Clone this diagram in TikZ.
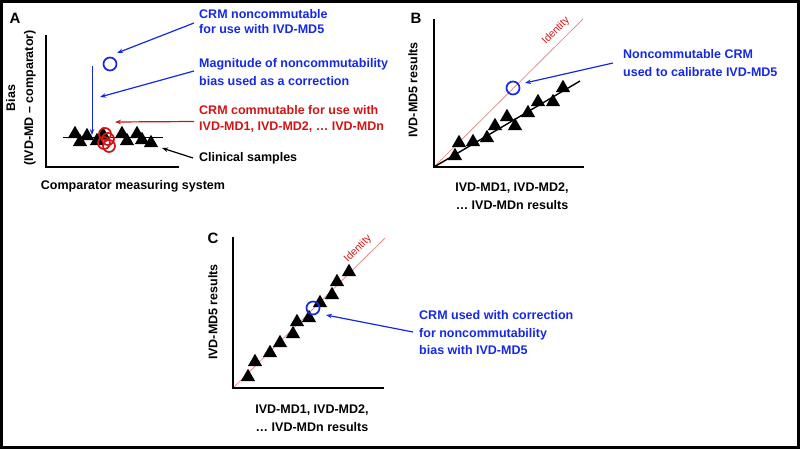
\documentclass[tikz,border=0pt]{standalone}
\usepackage{fontspec}
\setmainfont{Liberation Sans}
\usetikzlibrary{arrows.meta,shapes.geometric}
\definecolor{cblue}{RGB}{20,40,230}
\definecolor{cred}{RGB}{210,20,20}
\definecolor{idline}{RGB}{236,140,140}
\begin{document}
\begin{tikzpicture}[x=1pt,y=-1pt,
  lbl/.style={font=\fontsize{12.5}{15}\selectfont\bfseries, inner sep=0, align=left, anchor=west},
  axlbl/.style={font=\fontsize{12.5}{18}\selectfont\bfseries, inner sep=0, align=center},
  panel/.style={font=\fontsize{15}{15}\selectfont\bfseries, inner sep=0},
  idtxt/.style={font=\fontsize{10.5}{12}\selectfont, text=cred, inner sep=0, rotate=45},
  axis/.style={line width=1.3pt, line cap=rect},
  idl/.style={idline, line width=0.8pt},
  tri/.style={regular polygon, regular polygon sides=3, fill=black, inner sep=0, minimum size=16.5pt},
  bcirc/.style={circle, draw=cblue, line width=1.7pt, minimum size=13pt, inner sep=0},
  rcirc/.style={circle, draw=cred, line width=1.7pt, minimum size=12pt, inner sep=0},
  arr/.style={-{Stealth[length=6pt,width=4.5pt]}, line width=1.2pt},
]
\useasboundingbox (0,0) rectangle (800,450);
\draw[line width=3pt] (1.5,1.5) rectangle (798.5,447.5);

% ---------------- Panel A ----------------
\node[panel] (pA) at (15,18) {A};
\coordinate (Ao) at (46,167);
\draw[axis] (46,36) -- (Ao) -- (178,167);
\node[axlbl, rotate=90] (Ay) at (21,98) {Bias\\(IVD-MD -- comparator)};
\node[axlbl] (Ax) at (133,186) {Comparator measuring system};
\draw[line width=1.3pt] (63,137.5) coordinate (Al1) -- (163,137.5) coordinate (Al2);
\foreach \i/\x/\y in {1/75/134,2/80/142,3/87/136,4/97/141,5/103/135,6/122/134,7/127/141,8/137/134,9/142/140,10/151/143}
  \node[tri] (tA\i) at (\x,\y) {};
\node[rcirc] (rA1) at (105,134) {};
\node[rcirc] (rA2) at (108,139) {};
\node[rcirc] (rA3) at (104,143) {};
\node[rcirc] (rA4) at (109,146) {};
\node[bcirc] (bA) at (110,64) {};
\coordinate (Av1) at (92,66);
\coordinate (Av2) at (92,135);
\draw[arr, cblue, line width=1pt] (Av1) -- (Av2);

\node[lbl, text=cblue] (tA1txt) at (199,22) {CRM noncommutable\\for use with IVD-MD5};
\node[lbl, text=cblue, font=\fontsize{12.5}{18}\selectfont\bfseries] (tA2txt) at (199,72) {Magnitude of noncommutability\\bias used as a correction};
\node[lbl, text=cred, font=\fontsize{12.5}{16}\selectfont\bfseries] (tA3txt) at (199,119) {CRM commutable for use with\\IVD-MD1, IVD-MD2, … IVD-MDn};
\node[lbl] (tA4txt) at (199,158) {Clinical samples};

\coordinate (Aa1) at (117,53);
\coordinate (Aa2) at (100,97);
\coordinate (Aa3) at (115,122);
\coordinate (Aa4) at (162,148);
\draw[arr, cblue] (194,23) -- (Aa1);
\draw[arr, cblue] (194,71) -- (Aa2);
\draw[arr, cred] (194,121.5) -- (Aa3);
\draw[arr, black] (193,158) -- (Aa4);

% ---------------- Panel B ----------------
\node[panel] (pB) at (416,18) {B};
\coordinate (Bo) at (434,167);
\draw[idl] (Bo) -- (583,19);
\node[idtxt] (Bid) at (556,31) {Identity};
\draw[line width=1.4pt] (Bo) -- (580,81);
\foreach \i/\x/\y in {1/459/143,2/455/156,3/473/142,4/487/138,5/495/126,6/507/117,7/515/126,8/528/113,9/538/102,10/553/102,11/563/88}
  \node[tri] (tB\i) at (\x,\y) {};
\draw[axis] (434,20) -- (Bo) -- (583,167);
\node[bcirc] (bB) at (513,88) {};
\node[axlbl, rotate=90] (By) at (413,90) {IVD-MD5 results};
\node[axlbl] (Bx) at (512,196.5) {IVD-MD1, IVD-MD2,\\… IVD-MDn results};
\node[lbl, text=cblue, font=\fontsize{12.5}{18}\selectfont\bfseries] (tBtxt) at (623,63) {Noncommutable CRM\\used to calibrate IVD-MD5};
\coordinate (Ba) at (525,83);
\draw[arr, cblue] (613,63) -- (Ba);

% ---------------- Panel C ----------------
\node[panel] (pC) at (213,238) {C};
\coordinate (Co) at (233,388);
\draw[idl] (Co) -- (385,238);
\node[idtxt] (Cid) at (358,249) {Identity};
\foreach \i/\x/\y in {1/248/377,2/255/362,3/270/353,4/280/343,5/293/334,6/297/322,7/309/318,8/320/303,9/332/295,10/337/282,11/349/272}
  \node[tri] (tC\i) at (\x,\y) {};
\draw[axis] (233,238) -- (Co) -- (383,388);
\node[bcirc] (bC) at (313,308) {};
\node[axlbl, rotate=90] (Cy) at (213,312) {IVD-MD5 results};
\node[axlbl] (Cx) at (312,418.5) {IVD-MD1, IVD-MD2,\\… IVD-MDn results};
\node[lbl, text=cblue, font=\fontsize{12.5}{17.5}\selectfont\bfseries] (tCtxt) at (419,333) {CRM used with correction\\for noncommutability\\bias with IVD-MD5};
\coordinate (Ca) at (326,315);
\draw[arr, cblue] (413,332) -- (Ca);
\end{tikzpicture}
\end{document}
